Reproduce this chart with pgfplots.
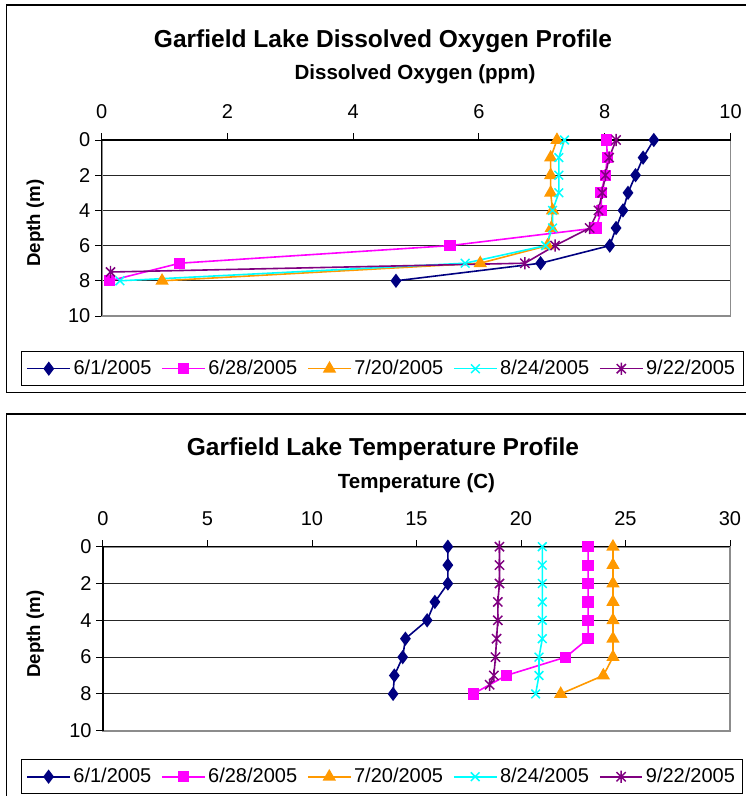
\documentclass[border=0pt]{standalone}
\usepackage{pgfplots}
\pgfplotsset{compat=1.18}
\usepackage{fontspec}
\setmainfont{Liberation Sans}
\definecolor{cnavy}{RGB}{0,0,128}
\definecolor{cmag}{RGB}{255,0,255}
\definecolor{corange}{RGB}{255,153,0}
\definecolor{ccyan}{RGB}{0,255,255}
\definecolor{cpurple}{RGB}{128,0,128}
\pgfdeclareplotmark{xstar}{%
  \pgfpathmoveto{\pgfqpoint{0pt}{\pgfplotmarksize}}%
  \pgfpathlineto{\pgfqpoint{0pt}{-\pgfplotmarksize}}%
  \pgfpathmoveto{\pgfqpoint{-.75\pgfplotmarksize}{-.75\pgfplotmarksize}}%
  \pgfpathlineto{\pgfqpoint{.75\pgfplotmarksize}{.75\pgfplotmarksize}}%
  \pgfpathmoveto{\pgfqpoint{-.75\pgfplotmarksize}{.75\pgfplotmarksize}}%
  \pgfpathlineto{\pgfqpoint{.75\pgfplotmarksize}{-.75\pgfplotmarksize}}%
  \pgfusepathqstroke}
\pgfplotsset{
  profile/.style={
    scale only axis, clip=false,
    y dir=reverse, ymin=0, ymax=10, ytick={0,2,4,6,8,10},
    tick align=outside, major tick length=5pt,
    xtick pos=right, xticklabel pos=right, ytick pos=left,
    ymajorgrids, grid style={black!85, line width=0.75pt},
    axis line style={draw=black!45, line width=1.3pt},
    tick style={black, line width=0.75pt},
    ticklabel style={font=\fontsize{15}{15}\selectfont},
    xticklabel style={yshift=7.5pt},
    /pgf/number format/assume math mode=true,
    legend columns=5,
    legend style={draw=black, line width=0.75pt, anchor=center,
      font=\fontsize{15}{15}\selectfont,
      inner xsep=4pt, inner ysep=4.5pt,
      /tikz/every even column/.append style={column sep=5.5pt}},
    legend image code/.code={\draw[mark repeat=2,mark phase=2] plot coordinates {(0pt,0pt) (16pt,0pt) (32pt,0pt)};},
  },
  s1/.style={color=cnavy, line width=1.2pt, mark=diamond*, mark size=4.4pt, mark options={solid}},
  s2/.style={color=cmag, line width=1.2pt, mark=square*, mark size=3.6pt, mark options={solid}},
  s3/.style={color=corange, line width=1.2pt, mark=triangle*, mark size=4.6pt, mark options={solid}},
  s4/.style={color=ccyan, line width=1.2pt, mark=x, mark size=4.6pt, mark options={solid, line width=1.1pt}},
  s5/.style={color=cpurple, line width=1.2pt, mark=xstar, mark size=4.6pt, mark options={solid, line width=1.1pt}},
}
\begin{document}
\begin{tikzpicture}[x=0.75pt,y=-0.75pt]
\useasboundingbox (0,0) rectangle (746,796);
\draw[line width=0.8pt] (6.5,5) rectangle (770,392.5);
\draw[line width=0.8pt] (6.5,414) rectangle (770,820);
\coordinate (A1) at (101.7,140);
\coordinate (A2) at (103,546.7);
% ---- titles top
\node[font=\bfseries\fontsize{18.4}{20}\selectfont, anchor=base, inner sep=0pt] at (383,47.3) {Garfield Lake Dissolved Oxygen Profile};
\node[font=\bfseries\fontsize{15.4}{18}\selectfont, anchor=base, inner sep=0pt] at (415,79.3) {Dissolved Oxygen (ppm)};
\node[font=\bfseries\fontsize{14}{16}\selectfont, anchor=base, inner sep=0pt, rotate=90] at (40,223) {Depth (m)};
% ---- titles bottom
\node[font=\bfseries\fontsize{18.4}{20}\selectfont, anchor=base, inner sep=0pt] at (383,455.5) {Garfield Lake Temperature Profile};
\node[font=\bfseries\fontsize{15.4}{18}\selectfont, anchor=base, inner sep=0pt] at (416.5,488) {Temperature (C)};
\node[font=\bfseries\fontsize{14}{16}\selectfont, anchor=base, inner sep=0pt, rotate=90] at (40,634) {Depth (m)};

\begin{axis}[profile,
  at={(A1)}, anchor=north west,
  width=471.6pt, height=132pt,
  xmin=0, xmax=10, xtick={0,2,4,6,8,10},
  legend style={at={(axis description cs:0.4461,-0.2994)}},
]
\addplot[s1] coordinates {(8.78,0) (8.61,1) (8.49,2) (8.37,3) (8.29,4) (8.18,5) (8.08,6) (6.98,7) (4.68,8)};
\addlegendentry{6/1/2005}
\addplot[s2] coordinates {(8.03,0) (8.04,1) (8.01,2) (7.94,3) (7.95,4) (7.86,5) (5.54,6) (1.24,7) (0.13,8)};
\addlegendentry{6/28/2005}
\addplot[s3] coordinates {(7.24,0) (7.14,1) (7.14,2) (7.14,3) (7.17,4) (7.15,5) (7.09,6) (6.02,7) (0.96,8)};
\addlegendentry{7/20/2005}
\addplot[s4] coordinates {(7.36,0) (7.27,1) (7.27,2) (7.27,3) (7.17,4) (7.17,5) (7.06,6) (5.78,7) (0.29,8)};
\addlegendentry{8/24/2005}
\addplot[s5] coordinates {(8.18,0) (8.07,1) (8.01,2) (7.96,3) (7.90,4) (7.76,5) (7.21,6) (6.73,7) (0.14,7.5)};
\addlegendentry{9/22/2005}
\draw[black, line width=0.9pt] (axis cs:0,10) -- (axis cs:0,0) -- (axis cs:10,0);
\end{axis}

\begin{axis}[profile,
  at={(A2)}, anchor=north west,
  width=470.25pt, height=138pt,
  xmin=0, xmax=30, xtick={0,5,10,15,20,25,30},
  legend style={at={(axis description cs:0.445,-0.25)}},
]
\addplot[s1] coordinates {(16.50,0) (16.50,1) (16.50,2) (15.88,3) (15.51,4) (14.47,5) (14.34,6) (13.94,7) (13.88,8)};
\addlegendentry{6/1/2005}
\addplot[s2] coordinates {(23.21,0) (23.21,1) (23.21,2) (23.21,3) (23.21,4) (23.21,5) (22.14,6) (19.29,7) (17.71,8)};
\addlegendentry{6/28/2005}
\addplot[s3] coordinates {(24.40,0) (24.40,1) (24.40,2) (24.40,3) (24.40,4) (24.40,5) (24.40,6) (23.94,7) (21.90,8)};
\addlegendentry{7/20/2005}
\addplot[s4] coordinates {(21.02,0) (21.02,1) (21.02,2) (21.02,3) (21.02,4) (21.02,5) (20.86,6) (20.86,7) (20.70,8)};
\addlegendentry{8/24/2005}
\addplot[s5] coordinates {(18.97,0) (18.97,1) (18.97,2) (18.89,3) (18.89,4) (18.83,5) (18.78,6) (18.70,7) (18.50,7.5)};
\addlegendentry{9/22/2005}
\draw[black, line width=0.9pt] (axis cs:0,10) -- (axis cs:0,0) -- (axis cs:30,0);
\end{axis}
\end{tikzpicture}
\end{document}
